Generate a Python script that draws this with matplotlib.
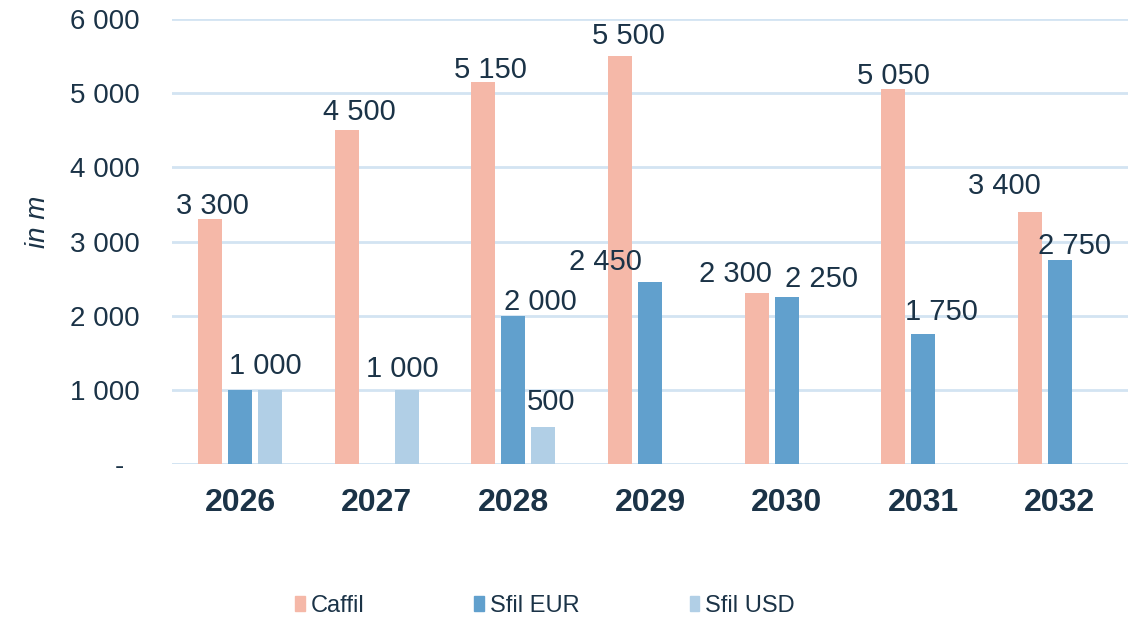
import numpy as np
import matplotlib.pyplot as plt
from matplotlib.patches import Patch

# Données
years = ["2026", "2027", "2028", "2029", "2030", "2031", "2032"]
caffil = [3300, 4500, 5150, 5500, 2300, 5050, 3400]
sfil_eur = [1000, 0, 2000, 2450, 2250, 1750, 2750]
sfil_usd = [1000, 1000, 500, 0, 0, 0, 0]

series_names = ["Caffil", "Sfil EUR", "Sfil USD"]
colors = ["#f5b8a8", "#61a0cd", "#b1cfe6"]
text_color = "#1b3347"
grid_color = "#d3e4f2"

# Décalage manuel des étiquettes (pixels), None = pas d'étiquette
label_offsets = [
    [(2, 5), (13, 10), (7, 4), (8, 12), (-21, 11), (0, 5), (-25, 18)],
    [None, None, (27, 6), (-45, 12), (35, 10), (18, 14), (15, 6)],
    [(-5, 16), (-5, 13), (8, 17), None, None, None, None],
]

def fmt(v):
    return f"{v:,.0f}".replace(",", " ")

fig = plt.figure(figsize=(11.4, 6.21), dpi=100)
ax = fig.add_axes([172 / 1140, 1 - 464 / 621, (1128 - 172) / 1140, (464 - 19) / 621])

x = np.arange(len(years))
step = 0.22
width = 0.176
for i, (vals, name, col) in enumerate(zip([caffil, sfil_eur, sfil_usd], series_names, colors)):
    pos = x + (i - 1) * step
    ax.bar(pos, vals, width=width, color=col, linewidth=0, zorder=2)
    for p, v, off in zip(pos, vals, label_offsets[i]):
        if v == 0 or off is None:
            continue
        ax.annotate(fmt(v), (p, v), xytext=off, textcoords="offset pixels",
                    ha="center", va="baseline", fontsize=21, color=text_color,
                    family="Liberation Sans")

ax.set_xlim(-0.5, len(years) - 0.5)
ax.set_ylim(0, 6000)
yt = np.arange(0, 7000, 1000)
ax.set_yticks(yt)
ax.set_yticklabels(["-  " if v == 0 else fmt(v) for v in yt],
                   fontsize=20, color=text_color, family="Liberation Sans")
ax.set_xticks(x)
ax.set_xticklabels(years, fontsize=23, fontweight="bold", color=text_color,
                   family="Liberation Sans")
ax.tick_params(axis="y", length=0, pad=23)
ax.tick_params(axis="x", length=0, pad=17)

ax.set_axisbelow(True)
ax.grid(axis="y", color=grid_color, linewidth=2, zorder=0)
ax.axhline(0, color=grid_color, linewidth=2, zorder=1)
for s in ax.spines.values():
    s.set_visible(False)

ax.set_ylabel("in m", fontsize=20, style="italic", color=text_color, family="Liberation Sans")
ax.yaxis.set_label_coords(-0.127, 0.545)

handles = [Patch(color=c, label=n) for c, n in zip(colors, series_names)]
leg = fig.legend(handles=handles, loc="center", bbox_to_anchor=(545 / 1140, 1 - 606 / 621),
                 ncol=3, frameon=False, handlelength=0.42, handleheight=0.63,
                 handletextpad=0.25, columnspacing=4.65,
                 prop={"family": "Liberation Sans", "size": 17})
for t in leg.get_texts():
    t.set_color(text_color)

fig.savefig("out.png", dpi=100)
